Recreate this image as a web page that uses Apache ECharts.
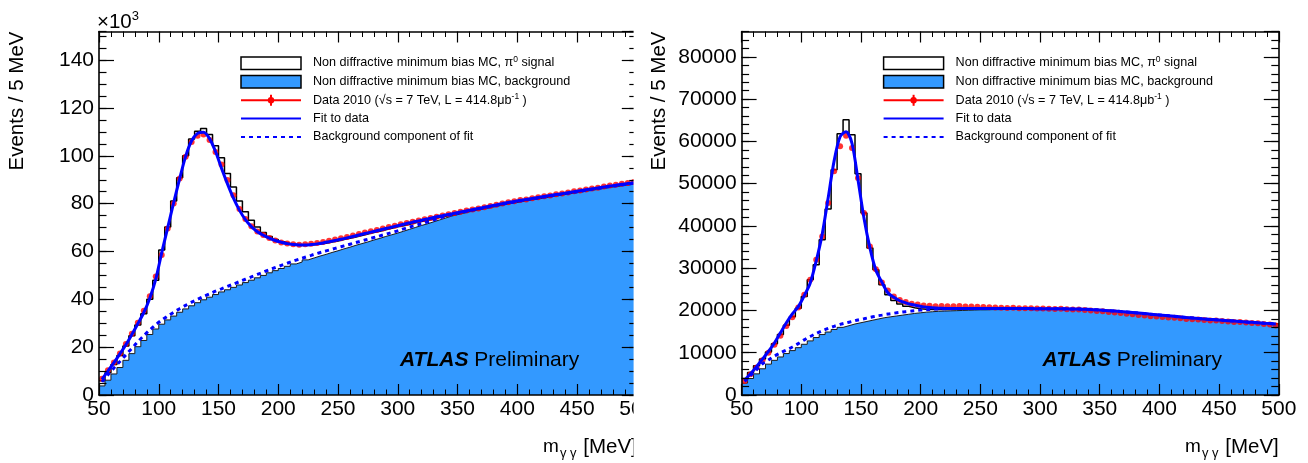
<!DOCTYPE html>
<html><head><meta charset="utf-8">
<script src="https://cdn.jsdelivr.net/npm/echarts@6/dist/echarts.min.js"></script>
<style>html,body{margin:0;padding:0;background:#fff}#c{width:1308px;height:463px}</style>
</head><body><div id="c"></div>
<script>
// ---------------- data (bins of 5 MeV from 50 to 500 MeV) ----------------
const MASS_MIN = 50, MASS_MAX = 500, BIN_WIDTH = 5;
const xTickStep = 50;

// Left panel (values in units of 10^3 events / 5 MeV)
const leftTotalMC = [
  6.0, 9.3, 12.8, 16.5, 20.5, 24.8, 29.3, 34.0, 40.0, 48.0,
  60.6, 70.3, 81.1, 90.8, 100.0, 107.0, 110.3, 111.4, 108.9, 104.2,
  99.2, 92.6, 87.0, 81.1, 76.6, 73.1, 70.2, 68.0, 66.3, 65.0,
  64.1, 63.4, 63.0, 62.8, 62.7, 62.8, 63.1, 63.5, 64.0, 64.4,
  65.0, 65.5, 66.1, 66.7, 67.3, 67.9, 68.5, 69.1, 69.7, 70.3,
  70.8, 71.4, 72.0, 72.5, 73.1, 73.6, 74.2, 74.7, 75.2, 75.7,
  76.2, 76.7, 77.2, 77.7, 78.2, 78.7, 79.2, 79.7, 80.2, 80.6,
  81.1, 81.5, 81.9, 82.3, 82.7, 83.1, 83.5, 83.9, 84.3, 84.7,
  85.1, 85.5, 85.9, 86.3, 86.7, 87.1, 87.4, 87.8, 88.1, 88.5];
const leftBkgMC = [
  3.8, 6.2, 8.8, 11.5, 14.5, 17.3, 20.2, 22.8, 25.3, 27.6,
  29.6, 31.4, 33.0, 34.6, 36.0, 37.3, 38.6, 39.8, 40.9, 42.0,
  43.1, 44.0, 45.0, 46.0, 47.0, 48.0, 49.0, 50.0, 51.1, 52.0,
  52.9, 53.8, 54.8, 55.6, 56.5, 57.3, 58.1, 58.8, 59.6, 60.3,
  61.1, 61.8, 62.6, 63.3, 64.0, 64.8, 65.5, 66.3, 67.0, 67.7,
  68.5, 69.3, 70.1, 70.9, 71.6, 72.4, 73.2, 74.0, 74.8, 75.4,
  76.0, 76.6, 77.1, 77.6, 78.1, 78.6, 79.1, 79.6, 80.1, 80.5,
  81.0, 81.4, 81.8, 82.2, 82.6, 83.0, 83.4, 83.8, 84.2, 84.6,
  85.0, 85.4, 85.8, 86.2, 86.6, 87.0, 87.3, 87.7, 88.0, 88.4];
const leftData = [
  6.8, 10.3, 13.6, 17.4, 21.3, 25.6, 30.2, 35.2, 41.3, 49.6,
  58.5, 69.6, 80.1, 90.5, 99.6, 105.8, 108.4, 108.9, 106.6, 101.6,
  96.4, 89.9, 83.5, 77.8, 73.6, 70.6, 68.4, 66.9, 65.6, 64.6,
  63.8, 63.3, 63.0, 62.8, 63.0, 63.2, 63.6, 64.0, 64.5, 65.0,
  65.5, 66.1, 66.7, 67.3, 67.9, 68.5, 69.0, 69.6, 70.2, 70.8,
  71.4, 71.9, 72.4, 73.0, 73.5, 74.0, 74.5, 75.1, 75.6, 76.1,
  76.6, 77.1, 77.6, 78.0, 78.5, 79.0, 79.6, 80.1, 80.6, 81.0,
  81.5, 81.8, 82.3, 82.7, 83.1, 83.4, 83.9, 84.3, 84.7, 85.2,
  85.5, 85.9, 86.4, 86.7, 87.2, 87.6, 87.9, 88.3, 88.6, 89.1];
const leftFit = [
  6.5, 10.0, 13.5, 17.2, 21.0, 25.3, 29.8, 34.5, 40.5, 48.5,
  59.5, 70.0, 80.5, 90.5, 99.8, 106.3, 109.4, 109.9, 107.2, 101.8,
  94.8, 88.3, 82.3, 77.3, 73.3, 70.4, 68.3, 66.8, 65.6, 64.6,
  63.9, 63.3, 62.9, 62.7, 62.7, 62.9, 63.2, 63.6, 64.1, 64.6,
  65.1, 65.7, 66.3, 66.9, 67.5, 68.1, 68.7, 69.3, 69.9, 70.5,
  71.1, 71.7, 72.3, 72.8, 73.4, 73.9, 74.5, 75.0, 75.5, 76.0,
  76.5, 77.0, 77.5, 78.0, 78.5, 79.0, 79.5, 80.0, 80.5, 80.9,
  81.4, 81.8, 82.2, 82.6, 83.0, 83.4, 83.8, 84.2, 84.6, 85.0,
  85.4, 85.8, 86.2, 86.6, 87.0, 87.4, 87.7, 88.1, 88.4, 88.8];
const leftBkgFit = [
  5.5, 8.5, 11.3, 14.0, 16.8, 19.5, 22.3, 24.8, 27.2, 29.4,
  31.3, 33.0, 34.6, 36.1, 37.5, 38.8, 40.0, 41.2, 42.3, 43.4,
  44.4, 45.4, 46.4, 47.4, 48.4, 49.4, 50.4, 51.4, 52.4, 53.3,
  54.2, 55.1, 56.0, 56.8, 57.6, 58.4, 59.2, 59.9, 60.6, 61.3,
  62.0, 62.7, 63.4, 64.1, 64.8, 65.5, 66.2, 66.9, 67.6, 68.3,
  69.1, 69.9, 70.6, 71.3, 72.0, 72.8, 73.6, 74.4, 75.1, 75.7,
  76.3, 76.8, 77.3, 77.8, 78.3, 78.8, 79.3, 79.8, 80.3, 80.7,
  81.2, 81.6, 82.0, 82.4, 82.8, 83.2, 83.6, 84.0, 84.4, 84.8,
  85.2, 85.6, 86.0, 86.4, 86.8, 87.2, 87.5, 87.9, 88.2, 88.6];

// Right panel (events / 5 MeV)
const rightTotalMC = [
  3900, 5300, 6900, 8500, 10200, 12100, 14300, 16500, 18500, 20500,
  23300, 27240, 30800, 36720, 44000, 53300, 61830, 65150, 61600, 52360,
  43040, 34750, 29610, 26060, 23690, 22340, 21550, 21000, 20650, 20400,
  20300, 20250, 20250, 20200, 20200, 20200, 20200, 20200, 20250, 20250,
  20250, 20300, 20300, 20300, 20300, 20300, 20300, 20300, 20300, 20300,
  20300, 20300, 20300, 20300, 20300, 20300, 20250, 20200, 20150, 20100,
  20000, 19900, 19800, 19700, 19600, 19450, 19350, 19200, 19100, 18950,
  18850, 18700, 18600, 18450, 18350, 18200, 18100, 18000, 17900, 17800,
  17700, 17600, 17500, 17400, 17300, 17200, 17100, 17000, 16900, 16800];
const rightBkgMC = [
  2800, 3900, 5000, 6200, 7300, 8200, 9000, 9800, 10500, 11200,
  12000, 12800, 13600, 14300, 14900, 15500, 16000, 16400, 16800, 17100,
  17400, 17700, 18000, 18300, 18500, 18700, 18900, 19100, 19300, 19450,
  19600, 19700, 19800, 19850, 19900, 19950, 20000, 20050, 20100, 20150,
  20150, 20200, 20200, 20250, 20250, 20250, 20250, 20250, 20250, 20250,
  20250, 20250, 20250, 20250, 20250, 20250, 20200, 20150, 20100, 20050,
  19950, 19850, 19750, 19650, 19550, 19400, 19300, 19150, 19050, 18900,
  18800, 18650, 18550, 18400, 18300, 18150, 18050, 17950, 17850, 17750,
  17650, 17550, 17450, 17350, 17250, 17150, 17050, 16950, 16850, 16750];
const rightData = [
  3300, 4900, 6500, 8200, 10000, 11900, 14000, 16300, 18400, 20700,
  23690, 27240, 31980, 37510, 45400, 52910, 58830, 61360, 58440, 51330,
  43040, 35140, 29770, 26610, 24720, 23300, 22500, 22000, 21600, 21400,
  21200, 21100, 21000, 21050, 21000, 21000, 21050, 20950, 20950, 20900,
  20800, 20750, 20700, 20650, 20600, 20650, 20500, 20500, 20550, 20450,
  20450, 20400, 20350, 20400, 20300, 20250, 20200, 20100, 20000, 19900,
  19800, 19650, 19500, 19400, 19250, 19100, 18950, 18800, 18650, 18550,
  18450, 18350, 18250, 18150, 18000, 17900, 17850, 17750, 17650, 17600,
  17500, 17400, 17300, 17250, 17150, 17050, 16950, 16800, 16650, 16450];
const rightFit = [
  3500, 5000, 6700, 8500, 10300, 12300, 14700, 17100, 19200, 20900,
  23500, 26500, 31700, 38000, 46600, 55400, 61100, 62300, 59500, 50900,
  41900, 34800, 29500, 26700, 24200, 23100, 22300, 21800, 21400, 21100,
  20850, 20700, 20600, 20520, 20480, 20460, 20450, 20450, 20450, 20450,
  20450, 20450, 20460, 20460, 20460, 20460, 20450, 20450, 20440, 20430,
  20420, 20410, 20400, 20390, 20380, 20360, 20330, 20290, 20230, 20150,
  20060, 19960, 19860, 19750, 19630, 19510, 19390, 19260, 19130, 19000,
  18870, 18740, 18610, 18480, 18350, 18230, 18110, 18000, 17890, 17790,
  17690, 17590, 17490, 17390, 17290, 17190, 17090, 16990, 16900, 16800];
const rightBkgFit = [
  3200, 4600, 6000, 7400, 8300, 9200, 9950, 10650, 11350, 12150,
  13050, 13850, 14550, 15200, 15750, 16250, 16700, 17050, 17400, 17750,
  18050, 18350, 18650, 18900, 19150, 19350, 19550, 19720, 19880, 20020,
  20140, 20240, 20320, 20380, 20420, 20440, 20440, 20440, 20440, 20440,
  20440, 20440, 20450, 20450, 20450, 20450, 20440, 20440, 20430, 20420,
  20410, 20400, 20390, 20380, 20370, 20350, 20320, 20280, 20220, 20140,
  20050, 19950, 19850, 19740, 19620, 19500, 19380, 19250, 19120, 18990,
  18860, 18730, 18600, 18470, 18340, 18220, 18100, 17990, 17880, 17780,
  17680, 17580, 17480, 17380, 17280, 17180, 17080, 16980, 16890, 16790];

const legendLabels = [
  'Non diffractive minimum bias MC, π{sup|0} signal',
  'Non diffractive minimum bias MC, background',
  'Data 2010 (√s = 7 TeV, L = 414.8μb{sup|-1} )',
  'Fit to data',
  'Background component of fit'];
const yTitle = 'Events / 5 MeV';

// ---------------- styling ----------------
const FONT = '"Liberation Sans", Arial, Helvetica, sans-serif';
const BLUE_FILL = '#3399ff';
const FIT_BLUE = '#0000ff';
const DATA_RED = '#ff0000';

const PANELS = [
  {left: 99, top: 31.5, width: 537.8, height: 363.5, yMax: 152, yMajor: 20, yMinor: 5},
  {left: 741.6, top: 31.5, width: 537.2, height: 363.5, yMax: 86000, yMajor: 10000, yMinor: 2000}
];

const nBins = leftData.length;
const binCentres = Array.from({length: nBins}, (_, i) => MASS_MIN + BIN_WIDTH * (i + 0.5));
const binLowEdges = Array.from({length: nBins + 1}, (_, i) => MASS_MIN + BIN_WIDTH * i);

function histPoints(vals) {
  const pts = vals.map((v, i) => [binLowEdges[i], v]);
  pts.push([binLowEdges[nBins], vals[nBins - 1]]);
  return pts;
}
const centrePoints = vals => vals.map((v, i) => [binCentres[i], v]);

const tickLine = {color: '#000', width: 1.2};
function xAxes(g) {
  const base = {
    gridIndex: g, type: 'value', min: MASS_MIN, max: MASS_MAX, interval: xTickStep, z: 10,
    splitLine: {show: false}, minorSplitLine: {show: false},
    axisLine: {show: true, onZero: false, lineStyle: {color: '#000', width: 1.6}},
    axisTick: {show: true, inside: true, length: 11, lineStyle: tickLine},
    minorTick: {show: true, splitNumber: 5, length: 5.5, lineStyle: {color: '#000', width: 1}}
  };
  return [
    Object.assign({}, base, {position: 'bottom',
      axisLabel: {show: true, fontSize: 21, fontFamily: FONT, color: '#000', margin: 4, formatter: v => String(v)}}),
    Object.assign({}, base, {position: 'top', axisLabel: {show: false}})
  ];
}
function yAxes(g) {
  const p = PANELS[g];
  const common = {gridIndex: g, type: 'value', min: 0, max: p.yMax, z: 10, splitLine: {show: false}};
  const major = pos => Object.assign({}, common, {
    position: pos, interval: p.yMajor,
    axisLine: {show: true, onZero: false, lineStyle: {color: '#000', width: 1.6}},
    axisTick: {show: true, inside: true, length: 15, lineStyle: tickLine},
    axisLabel: pos === 'left'
      ? {show: true, fontSize: 21, fontFamily: FONT, color: '#000', margin: 5, showMaxLabel: false, formatter: v => String(v)}
      : {show: false}
  });
  const minor = pos => Object.assign({}, common, {
    position: pos, interval: p.yMinor,
    axisLine: {show: false},
    axisTick: {show: true, inside: true, length: 7.5, lineStyle: tickLine},
    axisLabel: {show: false}
  });
  return [major('left'), minor('left'), major('right'), minor('right')];
}

function panelSeries(g, totalMC, bkgMC, data, fit, bkgFit) {
  const xi = g * 2, yi = g * 4;
  const common = {xAxisIndex: xi, yAxisIndex: yi, silent: true, animation: false};
  return [
    Object.assign({type: 'line', step: 'end', symbol: 'none', data: histPoints(totalMC), z: 2,
      lineStyle: {color: '#000', width: 1.5}, areaStyle: {color: '#ffffff', opacity: 1}}, common),
    Object.assign({type: 'line', step: 'end', symbol: 'none', data: histPoints(bkgMC), z: 3,
      lineStyle: {color: '#1a1a1a', width: 1}, areaStyle: {color: BLUE_FILL, opacity: 1}}, common),
    Object.assign({type: 'scatter', symbol: 'circle', symbolSize: 6, data: centrePoints(data), z: 4,
      itemStyle: {color: DATA_RED}}, common),
    Object.assign({type: 'line', symbol: 'none', smooth: 0.3, data: centrePoints(fit), z: 5,
      lineStyle: {color: FIT_BLUE, width: 3}}, common),
    Object.assign({type: 'line', symbol: 'none', smooth: 0.3, data: centrePoints(bkgFit), z: 6,
      lineStyle: {color: FIT_BLUE, width: 3, type: [4, 4]}}, common)
  ];
}

const supRich = {sup: {fontSize: 8.5, fontFamily: FONT, padding: [0, 0, 7, 0]}};

function panelGraphics(g) {
  const p = PANELS[g];
  const L = p.left, R = p.left + p.width;
  const bx = L + 142, tx = L + 214;
  const rows = [63, 81.5, 100.3, 118.6, 137];
  const els = [];
  // legend boxes
  els.push({type: 'rect', shape: {x: bx, y: rows[0] - 6, width: 60, height: 12.5},
    style: {fill: '#fff', stroke: '#000', lineWidth: 1.5}, z: 20});
  els.push({type: 'rect', shape: {x: bx, y: rows[1] - 6, width: 60, height: 12.5},
    style: {fill: BLUE_FILL, stroke: '#000', lineWidth: 1.5}, z: 20});
  els.push({type: 'line', shape: {x1: bx, y1: rows[2], x2: bx + 60, y2: rows[2]},
    style: {stroke: DATA_RED, lineWidth: 2}, z: 20});
  els.push({type: 'line', shape: {x1: bx + 30, y1: rows[2] - 5.5, x2: bx + 30, y2: rows[2] + 5.5},
    style: {stroke: DATA_RED, lineWidth: 2}, z: 20});
  els.push({type: 'circle', shape: {cx: bx + 30, cy: rows[2], r: 3.2},
    style: {fill: DATA_RED}, z: 20});
  els.push({type: 'line', shape: {x1: bx, y1: rows[3], x2: bx + 60, y2: rows[3]},
    style: {stroke: FIT_BLUE, lineWidth: 2}, z: 20});
  els.push({type: 'line', shape: {x1: bx, y1: rows[4], x2: bx + 60, y2: rows[4]},
    style: {stroke: FIT_BLUE, lineWidth: 2, lineDash: [4, 4]}, z: 20});
  legendLabels.forEach((t, i) => {
    els.push({type: 'text', x: tx, y: rows[i], z: 20,
      style: {text: t, fontSize: 12.6, fontFamily: FONT, fill: '#000', align: 'left', verticalAlign: 'middle', rich: supRich}});
  });
  // y title
  els.push({type: 'text', x: L - 82, y: 31.5, rotation: Math.PI / 2, z: 20,
    style: {text: yTitle, fontSize: 20.5, fontFamily: FONT, fill: '#000', align: 'right', verticalAlign: 'middle'}});
  // x title
  els.push({type: 'text', x: R, y: 447, z: 12,
    style: {text: '{m|m}{s|γ γ} [MeV]', fontSize: 20.5, fontFamily: FONT, fill: '#000', align: 'right', verticalAlign: 'middle',
      rich: {m: {fontSize: 19, fontFamily: FONT}, s: {fontSize: 13, fontFamily: FONT, padding: [12, 1, 0, 1]}}}});
  // ATLAS Preliminary
  els.push({type: 'text', x: L + 301, y: 360, z: 20,
    style: {text: '{a|ATLAS} Preliminary', fontSize: 21, fontFamily: FONT, fill: '#000', align: 'left', verticalAlign: 'middle',
      rich: {a: {fontSize: 21, fontFamily: FONT, fontWeight: 'bold', fontStyle: 'italic'}}}});
  return els;
}

const graphics = [].concat(panelGraphics(0), panelGraphics(1));
// ×10^3 exponent of left y axis
graphics.push({type: 'text', x: 97, y: 22, z: 20,
  style: {text: '×10{sup|3}', fontSize: 20.5, fontFamily: FONT, fill: '#000', align: 'left', verticalAlign: 'middle',
    rich: {sup: {fontSize: 13, fontFamily: FONT, padding: [0, 0, 11, 0]}}}});
// the left figure is cropped just before its right frame (drawn below the right panel's titles)
graphics.push({type: 'rect', shape: {x: 633.6, y: 0, width: 22, height: 463}, style: {fill: '#fff'}, z: 15});

const chart = echarts.init(document.getElementById('c'), null, {renderer: 'canvas'});
chart.setOption({
  animation: false,
  backgroundColor: '#fff',
  grid: PANELS.map(p => ({left: p.left, top: p.top, width: p.width, height: p.height, containLabel: false})),
  xAxis: [].concat(xAxes(0), xAxes(1)),
  yAxis: [].concat(yAxes(0), yAxes(1)),
  series: [].concat(
    panelSeries(0, leftTotalMC, leftBkgMC, leftData, leftFit, leftBkgFit),
    panelSeries(1, rightTotalMC, rightBkgMC, rightData, rightFit, rightBkgFit)),
  graphic: graphics
});
</script></body></html>
